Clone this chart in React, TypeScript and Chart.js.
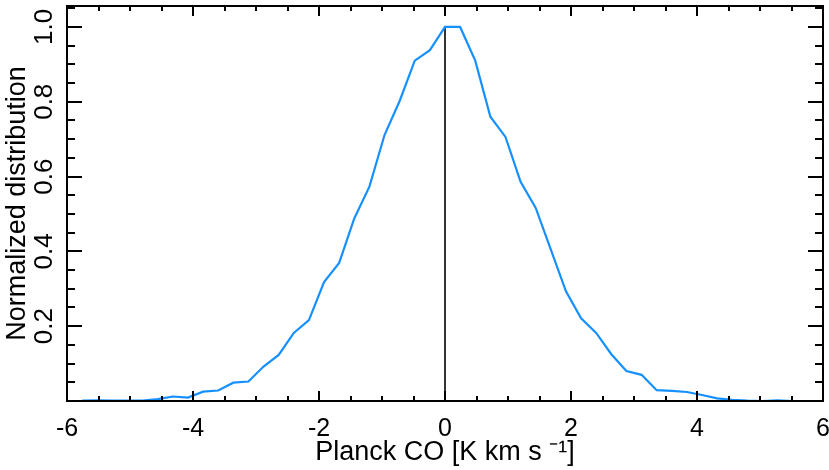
import React, { useEffect, useRef } from 'react';
import { Chart, registerables } from 'chart.js';

Chart.register(...registerables);

// Planck CO value (bin centres) and normalized distribution
const coValues = [
  -5.76, -5.52, -5.28, -5.04, -4.8, -4.56, -4.32, -4.08, -3.84, -3.6, -3.36, -3.12,
  -2.88, -2.64, -2.4, -2.16, -1.92, -1.68, -1.44, -1.2, -0.96, -0.72, -0.48, -0.24,
  0, 0.24, 0.48, 0.72, 0.96, 1.2, 1.44, 1.68, 1.92, 2.16, 2.4, 2.64, 2.88, 3.12,
  3.36, 3.6, 3.84, 4.08, 4.32, 4.56, 4.8, 5.04, 5.28, 5.52, 5.76, 6.0,
];
const distribution = [
  0.001, 0.002, 0.001, 0.001, 0.001, 0.005, 0.012, 0.009, 0.025, 0.028, 0.049, 0.052,
  0.092, 0.123, 0.182, 0.216, 0.318, 0.369, 0.488, 0.573, 0.711, 0.802, 0.91, 0.938,
  1.0, 1.0, 0.91, 0.76, 0.706, 0.586, 0.516, 0.405, 0.293, 0.221, 0.182, 0.125, 0.08,
  0.07, 0.029, 0.027, 0.024, 0.016, 0.007, 0.003, 0.001, 0.0, 0.002, 0.0, 0.0, 0.0,
];

// vertical reference line at zero
const zeroLineX = [0, 0];
const zeroLineY = [0, 1.0];

const xLabelTicks = [-6, -4, -2, 0, 2, 4, 6];
const yLabelTicks = [0.2, 0.4, 0.6, 0.8, 1.0];
const xMinorTicks = [-6, -5.5, -5, -4.5, -4, -3.5, -3, -2.5, -2, -1.5, -1, -0.5, 0, 0.5, 1, 1.5, 2, 2.5, 3, 3.5, 4, 4.5, 5, 5.5, 6];
const yMinorTicks = [0.05, 0.1, 0.15, 0.2, 0.25, 0.3, 0.35, 0.4, 0.45, 0.5, 0.55, 0.6, 0.65, 0.7, 0.75, 0.8, 0.85, 0.9, 0.95, 1.0, 1.05];

const X_MIN = -6;
const X_MAX = 6;
const Y_MIN = 0;
const Y_MAX = 1.056;

const FONT = '"Liberation Sans", Arial, Helvetica, sans-serif';

const framePlugin = {
  id: 'idlFrame',
  afterDatasetsDraw(chart: any) {
    const { ctx, chartArea, scales } = chart;
    const { left, right, top, bottom } = chartArea;
    const xs = scales.x;
    const ys = scales.y;
    ctx.save();
    ctx.strokeStyle = '#000';
    ctx.lineWidth = 2;
    ctx.beginPath();
    for (const v of xMinorTicks) {
      const px = Math.round(xs.getPixelForValue(v));
      const major = xLabelTicks.indexOf(v) >= 0;
      const len = major ? 10 : 5;
      ctx.moveTo(px, bottom);
      ctx.lineTo(px, bottom - len);
      ctx.moveTo(px, top);
      ctx.lineTo(px, top + len);
    }
    for (const v of yMinorTicks) {
      const py = Math.round(ys.getPixelForValue(v));
      const major = yLabelTicks.some((t) => Math.abs(t - v) < 1e-9);
      const len = major ? 15 : 8;
      ctx.moveTo(left, py);
      ctx.lineTo(left + len, py);
      ctx.moveTo(right, py);
      ctx.lineTo(right - len, py);
    }
    ctx.stroke();
    ctx.strokeRect(left, top, right - left, bottom - top);
    ctx.restore();
  },
};

export default function App() {
  const canvasRef = useRef<HTMLCanvasElement | null>(null);

  useEffect(() => {
    const canvas = canvasRef.current;
    if (!canvas) return;
    const chart = new Chart(canvas, {
      type: 'line',
      data: {
        datasets: [
          {
            label: 'distribution',
            data: coValues.map((x, i) => ({ x, y: distribution[i] })),
            borderColor: '#1790ff',
            borderWidth: 2.2,
            pointRadius: 0,
            fill: false,
            tension: 0,
          },
          {
            label: 'zero',
            data: zeroLineX.map((x, i) => ({ x, y: zeroLineY[i] })),
            borderColor: '#000000',
            borderWidth: 1.6,
            pointRadius: 0,
            fill: false,
          },
        ],
      },
      options: {
        responsive: false,
        animation: false,
        devicePixelRatio: 1,
        layout: { padding: { top: 6, right: 6, left: 0, bottom: 0 } },
        plugins: {
          legend: { display: false },
          tooltip: { enabled: false },
        },
        scales: {
          x: {
            type: 'linear',
            min: X_MIN,
            max: X_MAX,
            grid: { display: false, drawTicks: false },
            border: { display: false },
            afterBuildTicks: (s: any) => {
              s.ticks = xLabelTicks.map((value) => ({ value }));
            },
            afterFit: (s: any) => {
              s.height = 69;
              s.paddingLeft = 0;
              s.paddingRight = 0;
            },
            ticks: {
              color: '#000',
              font: { family: FONT, size: 25 },
              padding: 13,
              maxRotation: 0,
              minRotation: 0,
              autoSkip: false,
              callback: (v: any) => String(v),
            },
            title: {
              display: true,
              text: 'Planck CO [K km s \u207B\u00B9]',
              color: '#000',
              font: { family: FONT, size: 27 },
              padding: { top: 0, bottom: 1 },
            },
          },
          y: {
            type: 'linear',
            min: Y_MIN,
            max: Y_MAX,
            grid: { display: false, drawTicks: false },
            border: { display: false },
            afterBuildTicks: (s: any) => {
              s.ticks = yLabelTicks.map((value) => ({ value }));
            },
            afterFit: (s: any) => {
              s.width = 67;
              s.paddingTop = 0;
              s.paddingBottom = 0;
            },
            ticks: {
              color: '#000',
              font: { family: FONT, size: 26 },
              padding: 4,
              minRotation: 90,
              maxRotation: 90,
              crossAlign: 'center',
              autoSkip: false,
              callback: (v: any) => Number(v).toFixed(1),
            },
            title: {
              display: true,
              text: 'Normalized distribution',
              color: '#000',
              font: { family: FONT, size: 27 },
              padding: { top: 1, bottom: 0 },
            },
          },
        },
      } as any,
      plugins: [framePlugin],
    });
    return () => chart.destroy();
  }, []);

  return (
    <div style={{ position: 'absolute', left: 0, top: 0, width: 829, height: 470, background: '#fff' }}>
      <canvas ref={canvasRef} width={829} height={470} style={{ display: 'block' }} />
    </div>
  );
}
